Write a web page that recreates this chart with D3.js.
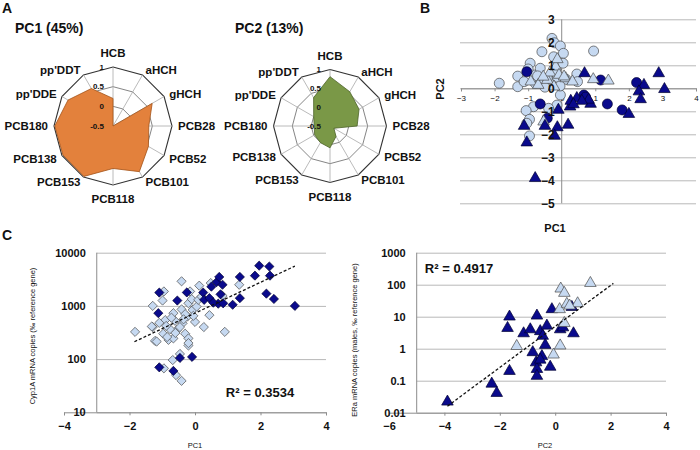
<!DOCTYPE html>
<html>
<head>
<meta charset="utf-8">
<script src="https://cdn.jsdelivr.net/npm/d3@7"></script>
<style>
body { margin: 0; background: #fff; }
svg { display: block; font-family: "Liberation Sans", Arial, sans-serif; }
</style>
</head>
<body>
<svg id="fig" width="700" height="450"></svg>
<script>
// ---- data ----
const radarAxes = ["HCB", "aHCH", "gHCH", "PCB28", "PCB52", "PCB101", "PCB118", "PCB153", "PCB138", "PCB180", "pp'DDE", "pp'DDT"];
const radarTicks = [-0.5, 0, 0.5, 1];
const pc1Loadings = [0.2, -0.5, 0.65, 0.41, 0.54, 0.84, 0.58, 0.98, 0.97, 0.98, 0.82, 0.6];
const pc2Loadings = [0.81, 0.55, 0.39, 0.22, -0.38, -0.18, 0.08, 0.01, -0.03, -0.08, 0.0, 0.37];

// panel B : PC1 / PC2 scores
const bTicksX = [-3, -2, -1, 0, 1, 2, 3, 4];
const bTicksY = [3, 2, 1, 0, -1, -2, -3, -4, -5];
const bLightCircles = [[-1.86, 0.22], [-1.31, 0.53], [-1.31, 0.07], [-1.12, 0.29], [-0.94, 1.09], [-0.82, 0.58],
  [-0.64, 0.87], [-0.59, 1.59], [-0.29, 2.17], [-0.22, 1.98], [-0.04, 1.84], [0.05, 1.52], [-0.24, 1.37],
  [0.04, 1.09], [-0.44, 0.22], [-0.79, 0.22], [0.13, 0.39], [0.45, 0.62], [0.47, 0.29], [0.95, 1.62],
  [-0.64, 0.25], [-0.33, 0.22], [-0.13, 0.48], [-0.72, 0.54], [-0.43, 0.43], [-1.0, 0.84], [-0.04, -0.29],
  [-0.14, -0.73], [-0.39, -0.87], [-0.84, -0.8], [-1.06, -0.97], [-0.96, -1.35], [-1.04, -1.52],
  [-0.96, -2.07], [-0.5, 0.05], [-0.2, 0.75], [-0.05, 0.1]];
const bDarkCircles = [[-1.04, 0.72], [-0.64, -0.68], [-0.43, -1.3], [0.66, -0.29], [0.71, -0.38], [1.16, 0.36],
  [1.36, -0.68], [2.23, 0.25], [1.8, -0.94]];
const bLightTriangles = [[-0.92, 0.29], [-0.7, 0.14], [-0.43, 0.36], [-0.35, 0.68], [-0.18, 0.94], [-0.13, 1.26],
  [-0.23, 0.07], [-0.08, 0.58], [0.12, 0.43], [0.32, 0.29], [0.07, 0.51], [0.94, 0.39], [1.39, 0.33],
  [-0.54, -1.45], [-0.55, 0.5]];
const bDarkTriangles = [[0.68, 0.65], [2.45, 0.14], [2.89, 0.65], [3.06, -0.04], [2.3, -0.14], [2.35, -0.48],
  [2.0, -1.12], [-0.1, -0.94], [0.25, -0.8], [0.27, -0.55], [0.45, -0.43], [0.86, -0.68], [0.8, -0.5],
  [-1.12, -1.64], [-0.5, -1.64], [-0.13, -1.7], [0.19, -1.59], [-0.21, -2.07], [-1.04, -2.36],
  [-0.79, -3.91], [0.6, -0.55], [0.35, -0.7]];

// panel C left : Cyp1A vs PC1
const cypTicksX = [-4, -2, 0, 2, 4];
const cypTicksY = [10, 100, 1000, 10000];
const cypLight = [[-1.83, 325], [-1.29, 1000], [-1.29, 400], [-0.95, 1870], [-0.99, 1260], [-1.22, 220],
  [-0.97, 300], [-0.91, 540], [-0.81, 230], [-0.66, 245], [-0.66, 730], [-0.61, 525], [-0.56, 350],
  [-0.41, 2900], [-0.41, 860], [-0.38, 470], [-0.3, 300], [-0.2, 245], [-0.23, 630], [-0.2, 1120],
  [-0.15, 1870], [-0.07, 840], [-0.1, 1340], [0.0, 500], [0.05, 970], [0.13, 2400], [0.1, 1300],
  [0.27, 400], [0.44, 670], [0.48, 2690], [0.91, 325], [1.35, 2500], [0.84, 1550], [-0.46, 400],
  [-0.76, 365], [-1.09, 480], [-0.2, 180], [-0.68, 96], [-0.95, 67], [-0.58, 50], [-0.41, 39],
  [-0.46, 125], [-0.2, 200], [-1.32, 410], [-1.17, 214], [-0.88, 420], [-0.72, 600], [-0.3, 700],
  [-0.05, 650], [-0.6, 310], [-0.85, 260], [0.2, 1500], [-0.35, 560]];
const cypDark = [[-1.09, 1780], [-1.12, 730], [-0.54, 1260], [-0.25, 1790], [0.25, 1780], [0.28, 1300],
  [0.44, 1400], [0.66, 2800], [0.74, 3500], [0.84, 2500], [0.78, 1650], [0.71, 1100], [0.56, 1150],
  [0.86, 1120], [1.15, 1050], [1.37, 1400], [1.37, 3500], [1.83, 3700], [1.96, 5700], [2.27, 5500],
  [2.29, 3700], [2.18, 1700], [2.41, 1350], [3.05, 1000], [-0.09, 110], [-0.46, 105], [-1.09, 70],
  [-0.66, 60], [0.5, 2300]];
const cypTrend = [[-1.85, 212], [3.05, 5600]];

// panel C right : ERa vs PC2
const eraTicksX = [-6, -4, -2, 0, 2, 4];
const eraTicksY = [0.01, 0.1, 1, 10, 100, 1000];
const eraLight = [[-1.39, 1.2], [-0.06, 0.65], [0.18, 1.25], [0.2, 75], [0.33, 55], [0.16, 17], [0.42, 25],
  [0.81, 26], [1.27, 112], [0.33, 6.3], [0.52, 22]];
const eraDark = [[-3.89, 0.022], [-2.29, 0.08], [-2.11, 0.041], [-1.65, 0.2], [-1.65, 10], [-1.72, 4.4],
  [-1.14, 3], [-0.9, 4], [-0.66, 10.7], [-0.54, 3.5], [-0.45, 2.5], [-0.3, 5.2], [-0.36, 1.3], [-0.81, 0.77],
  [-0.69, 0.37], [-0.66, 0.23], [-0.66, 0.14], [-0.48, 0.58], [-0.18, 0.27], [-0.12, 17], [0.18, 4],
  [0.28, 4.6], [0.66, 3], [0.6, 20], [-0.54, 0.45]];
const eraTrend = [[-3.89, 0.016], [2.1, 110]];

// ---- styles ----
const NAVY = "#0a0a8c";
const LIGHT = "#c6d9f1";
const GRID = "#b8b8b8";
const AXIS = "#8c8c8c";

const svg = d3.select("#fig");
svg.append("rect").attr("width", 700).attr("height", 450).attr("fill", "#fff");

function label(x, y, txt, size, opts = {}) {
	return svg.append("text")
		.attr("x", x).attr("y", y)
		.attr("font-size", size)
		.attr("font-weight", opts.weight || "bold")
		.attr("text-anchor", opts.anchor || "start")
		.attr("fill", "#111")
		.text(txt);
}

// ---- panel A : radar charts ----
function radar(cx, cy, R, values, fill, edge) {
	const g = svg.append("g");
	const r = d3.scaleLinear().domain([-0.5, 1]).range([0, R]);
	const a = d3.scaleLinear().domain([0, radarAxes.length]).range([0, 2 * Math.PI]);
	const pos = (i, v) => [cx + r(v) * Math.sin(a(i)), cy - r(v) * Math.cos(a(i))];

	radarTicks.slice(1).forEach(t => {
		g.append("path")
			.attr("d", d3.line()(radarAxes.map((_, i) => pos(i, t))) + "Z")
			.attr("fill", "none")
			.attr("stroke", t === 1 ? "#333" : "#666")
			.attr("stroke-width", t === 1 ? 1.1 : 0.8);
	});
	radarAxes.forEach((_, i) => {
		g.append("line")
			.attr("x1", cx).attr("y1", cy)
			.attr("x2", pos(i, 1)[0]).attr("y2", pos(i, 1)[1])
			.attr("stroke", "#a8a8a8").attr("stroke-width", 0.8);
	});

	g.append("path")
		.attr("d", d3.line()(values.map((v, i) => pos(i, v))) + "Z")
		.attr("fill", fill)
		.attr("stroke", edge)
		.attr("stroke-width", 0.8);

	radarAxes.forEach((name, i) => {
		const th = a(i);
		const s = Math.sin(th), c = Math.cos(th);
		let x = cx + (R + 6) * s, y = cy - (R + 6) * c;
		let anchor = "middle";
		if (s > 0.2) anchor = "start";
		if (s < -0.2) anchor = "end";
		if (Math.abs(s) < 0.2) y += c > 0 ? -8 : 8;
		g.append("text")
			.attr("x", x).attr("y", y).attr("dy", "0.35em")
			.attr("text-anchor", anchor)
			.attr("font-size", 11.5).attr("font-weight", "bold")
			.attr("fill", "#111")
			.text(name);
	});

	radarTicks.forEach(t => {
		g.append("text")
			.attr("x", cx - 9).attr("y", cy - r(t)).attr("dy", "0.35em")
			.attr("text-anchor", "end")
			.attr("font-size", 8).attr("font-weight", "bold")
			.attr("fill", "#111")
			.text(t);
	});
}

label(2, 13, "A", 14);
label(15, 33, "PC1 (45%)", 14);
label(235, 33, "PC2 (13%)", 14);
radar(113, 126, 59, pc1Loadings, "#e3813c", "#a35318");
radar(330, 126, 56.5, pc2Loadings, "#7a9847", "#4d6328");

// ---- marker helpers ----
const triPath = d3.symbol().type(d3.symbolTriangle).size(58)();
const diamondPath = "M0,-4.6L4.6,0L0,4.6L-4.6,0Z";

function markers(g, data, xs, ys, kind, fill) {
	const sel = g.append("g").selectAll("path").data(data).join("path")
		.attr("transform", d => `translate(${xs(d[0])},${ys(d[1])})`)
		.attr("fill", fill)
		.attr("stroke", fill === NAVY ? "#000030" : "#4a4a4a")
		.attr("stroke-width", 0.7);
	if (kind === "circle") sel.attr("d", d3.symbol().type(d3.symbolCircle).size(Math.PI * 25)());
	if (kind === "triangle") sel.attr("d", triPath);
	if (kind === "diamond") sel.attr("d", diamondPath);
}

// ---- panel B : score plot ----
label(420, 13, "B", 14);
const xB = d3.scaleLinear().domain([-3, 4]).range([461, 696]);
const yB = d3.scaleLinear().domain([-5, 3]).range([203.3, 19.3]);
const gB = svg.append("g");

gB.append("g")
	.attr("transform", `translate(${xB(-3) - 1},0)`)
	.call(d3.axisRight(yB).tickValues(bTicksY).tickSize(xB(4) - xB(-3) + 1).tickFormat(""))
	.call(a => a.select(".domain").remove())
	.call(a => a.selectAll("line").attr("stroke", GRID));
gB.append("line")
	.attr("x1", xB(0)).attr("x2", xB(0)).attr("y1", yB(3)).attr("y2", yB(-5))
	.attr("stroke", AXIS);
gB.append("g")
	.attr("transform", `translate(0,${yB(0)})`)
	.call(d3.axisBottom(xB).tickValues(bTicksX).tickSize(3).tickPadding(4).tickFormat(d3.format("d")))
	.call(a => a.select(".domain").attr("stroke", AXIS))
	.call(a => a.selectAll("line").attr("stroke", AXIS))
	.call(a => a.selectAll("text").attr("font-size", 8).attr("fill", "#111").attr("font-family", "Liberation Sans, Arial"));

markers(gB, bLightCircles, xB, yB, "circle", LIGHT);
markers(gB, bDarkCircles, xB, yB, "circle", NAVY);
markers(gB, bLightTriangles, xB, yB, "triangle", LIGHT);
markers(gB, bDarkTriangles, xB, yB, "triangle", NAVY);

gB.append("g")
	.attr("transform", `translate(${xB(0) - 3},0)`)
	.call(d3.axisLeft(yB).tickValues(bTicksY).tickSize(0).tickPadding(4))
	.call(a => a.select(".domain").remove())
	.call(a => a.selectAll("text").attr("font-size", 12).attr("font-weight", "bold").attr("fill", "#111").attr("font-family", "Liberation Sans, Arial"));

label(555, 232, "PC1", 11, { anchor: "middle" });
svg.append("text")
	.attr("transform", "translate(444,89) rotate(-90)")
	.attr("text-anchor", "middle")
	.attr("font-size", 11).attr("font-weight", "bold").attr("fill", "#111")
	.text("PC2");

// ---- panel C : log scatter plots ----
label(2, 240, "C", 14);

function logPanel(xs, ys, axisX, ticksX, ticksY, fmt) {
	const g = svg.append("g");
	const x1 = xs.range()[1];
	g.append("g")
		.attr("transform", `translate(${xs(axisX)},0)`)
		.call(d3.axisRight(ys).tickValues(ticksY).tickSize(x1 - xs(axisX)).tickFormat(""))
		.call(a => a.select(".domain").remove())
		.call(a => a.selectAll("line").attr("stroke", GRID));
	g.append("line")
		.attr("x1", xs(axisX)).attr("x2", xs(axisX))
		.attr("y1", ys.range()[1]).attr("y2", ys.range()[0])
		.attr("stroke", AXIS);
	g.append("g")
		.attr("transform", `translate(0,${ys.range()[0]})`)
		.call(d3.axisBottom(xs).tickValues(ticksX).tickSize(3).tickPadding(7).tickFormat(d3.format("d")))
		.call(a => a.select(".domain").attr("stroke", AXIS))
		.call(a => a.selectAll("line").attr("stroke", AXIS))
		.call(a => a.selectAll("text").attr("font-size", 11).attr("font-weight", "bold").attr("fill", "#111").attr("font-family", "Liberation Sans, Arial"));
	g.append("g")
		.attr("transform", `translate(${xs(axisX) - 8},0)`)
		.call(d3.axisLeft(ys).tickValues(ticksY).tickSize(0).tickFormat(fmt))
		.call(a => a.select(".domain").remove())
		.call(a => a.selectAll("text").attr("font-size", 11).attr("font-weight", "bold").attr("fill", "#111").attr("font-family", "Liberation Sans, Arial"));
	return g;
}

function trend(g, pts, xs, ys) {
	g.append("path")
		.attr("d", d3.line().x(d => xs(d[0])).y(d => ys(d[1]))(pts))
		.attr("fill", "none")
		.attr("stroke", "#111")
		.attr("stroke-width", 1.3)
		.attr("stroke-dasharray", "3,2");
}

// left: Cyp1A
const xC1 = d3.scaleLinear().domain([-4, 4]).range([64, 326]);
const yC1 = d3.scaleLog().domain([10, 10000]).range([412.3, 252.7]);
const gC1 = logPanel(xC1, yC1, -3, cypTicksX, cypTicksY, d3.format("d"));
markers(gC1, cypLight, xC1, yC1, "diamond", LIGHT);
markers(gC1, cypDark, xC1, yC1, "diamond", NAVY);
trend(gC1, cypTrend, xC1, yC1);
label(260, 397, "R² = 0.3534", 13, { anchor: "middle" });
label(195, 448, "PC1", 7.5, { anchor: "middle", weight: "normal" });
svg.append("text")
	.attr("transform", "translate(35,336) rotate(-90)")
	.attr("text-anchor", "middle")
	.attr("font-size", 7.5).attr("fill", "#111")
	.text("Cyp1A mRNA copies  (‰ reference gene)");

// right: ERa
const xC2 = d3.scaleLinear().domain([-6, 4]).range([389, 666]);
const yC2 = d3.scaleLog().domain([0.01, 1000]).range([412.7, 252.7]);
const gC2 = logPanel(xC2, yC2, -5, eraTicksX, eraTicksY, d => String(d));
markers(gC2, eraDark, xC2, yC2, "triangle", NAVY);
markers(gC2, eraLight, xC2, yC2, "triangle", LIGHT);
trend(gC2, eraTrend, xC2, yC2);
label(459, 273, "R² = 0.4917", 13, { anchor: "middle" });
label(545, 448, "PC2", 7.5, { anchor: "middle", weight: "normal" });
svg.append("text")
	.attr("transform", "translate(357,340) rotate(-90)")
	.attr("text-anchor", "middle")
	.attr("font-size", 7.5).attr("fill", "#111")
	.text("ERa mRNA copies (males, ‰ reference gene)");
</script>
</body>
</html>
